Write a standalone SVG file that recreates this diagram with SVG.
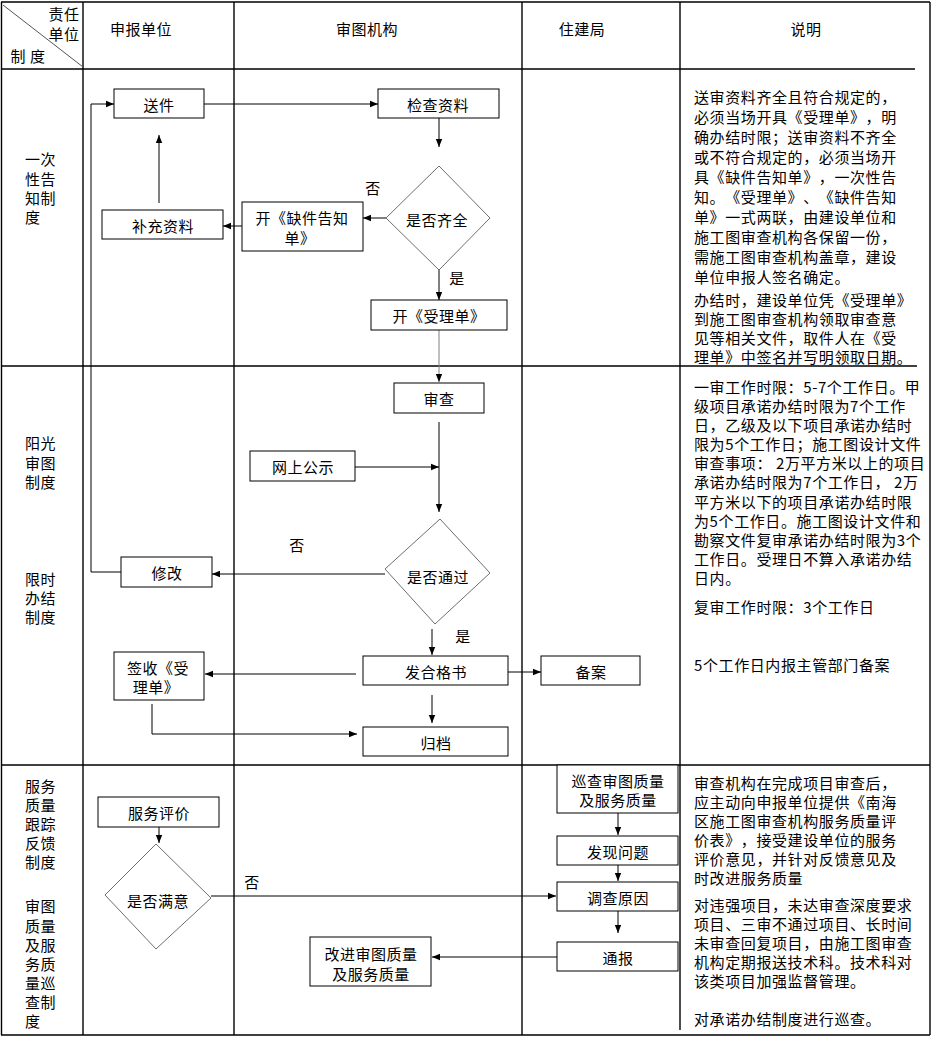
<svg xmlns="http://www.w3.org/2000/svg" width="941" height="1038" viewBox="0 0 941 1038">
<style>
text{font-family:"Noto Sans CJK SC","Noto Sans",sans-serif;font-size:15px;fill:#000;dominant-baseline:central;text-spacing-trim:space-all}
.c{text-anchor:middle;letter-spacing:0.5px}
.n{text-anchor:start;letter-spacing:0.6px}
.grid line{stroke:#000;stroke-width:1.4}
.box{fill:#fff;stroke:#000;stroke-width:1}
.dia{fill:#fff;stroke:#6e6e6e;stroke-width:1}
.conn path{fill:none;stroke:#000;stroke-width:1}
.conn path.g{stroke:#808080}
</style>
<defs>
<marker id="arr" viewBox="0 0 10 10" refX="10" refY="5" markerWidth="9" markerHeight="8" markerUnits="userSpaceOnUse" orient="auto">
<path d="M0,1 L10,5 L0,9 z" fill="#000"/>
</marker>
</defs>
<rect x="0" y="0" width="941" height="1038" fill="#fff"/>
<g id="table" class="grid">
<line x1="1" y1="2" x2="930" y2="2"/>
<line x1="1.5" y1="2" x2="1.5" y2="1035"/>
<line x1="930" y1="2" x2="930" y2="1035"/>
<line x1="83" y1="2" x2="83" y2="1035"/>
<line x1="234" y1="2" x2="234" y2="1035"/>
<line x1="522" y1="2" x2="522" y2="1035"/>
<line x1="680" y1="2" x2="680" y2="1030"/>
<line x1="1" y1="69" x2="915" y2="69"/>
<line x1="1" y1="366" x2="917" y2="366"/>
<line x1="1" y1="765" x2="930" y2="765"/>
<line x1="1" y1="1035" x2="930" y2="1035"/>
<line x1="3" y1="5" x2="83" y2="67" style="stroke:#555;stroke-width:1"/>
</g>
<g id="header">
<text x="64" y="13" class="c">责任</text>
<text x="64" y="33" class="c">单位</text>
<text x="28" y="55" class="c">制 度</text>
<text x="141" y="28" class="c">申报单位</text>
<text x="367" y="28" class="c">审图机构</text>
<text x="582" y="28" class="c">住建局</text>
<text x="806" y="28" class="c">说明</text>
</g>
<g id="row-labels">
<text x="25" y="158" class="n">一次</text>
<text x="25" y="178" class="n">性告</text>
<text x="25" y="197" class="n">知制</text>
<text x="25" y="216" class="n">度</text>
<text x="25" y="442" class="n">阳光</text>
<text x="25" y="462" class="n">审图</text>
<text x="25" y="481" class="n">制度</text>
<text x="25" y="578" class="n">限时</text>
<text x="25" y="597" class="n">办结</text>
<text x="25" y="616" class="n">制度</text>
<text x="25" y="785" class="n">服务</text>
<text x="25" y="804" class="n">质量</text>
<text x="25" y="823" class="n">跟踪</text>
<text x="25" y="842" class="n">反馈</text>
<text x="25" y="861" class="n">制度</text>
<text x="25" y="905" class="n">审图</text>
<text x="25" y="925" class="n">质量</text>
<text x="25" y="944" class="n">及服</text>
<text x="25" y="963" class="n">务质</text>
<text x="25" y="982" class="n">量巡</text>
<text x="25" y="1001" class="n">查制</text>
<text x="25" y="1020" class="n">度</text>
</g>
<g id="connectors" class="conn">
<path d="M204,104 H378" marker-end="url(#arr)"/>
<path d="M439,118 V147" marker-end="url(#arr)"/>
<path d="M386,218 H363" marker-end="url(#arr)"/>
<path d="M242,226 H223" marker-end="url(#arr)"/>
<path d="M159,203 V135" marker-end="url(#arr)"/>
<path d="M439,270 V300" marker-end="url(#arr)"/>
<path class="g" d="M439,330 V382" marker-end="url(#arr)"/>
<path d="M439,422 V512" marker-end="url(#arr)"/>
<path d="M355,467 H439" marker-end="url(#arr)"/>
<path d="M385,574 H212" marker-end="url(#arr)"/>
<path d="M121,572 H91 V104 H114" marker-end="url(#arr)"/>
<path d="M432,629 V655" marker-end="url(#arr)"/>
<path d="M356,674 H205" marker-end="url(#arr)"/>
<path d="M508,672 H541" marker-end="url(#arr)"/>
<path d="M432,695 V723" marker-end="url(#arr)"/>
<path d="M152,704 V734 H357" marker-end="url(#arr)"/>
<path d="M159,827 V843" marker-end="url(#arr)"/>
<path d="M211,896 H556" marker-end="url(#arr)"/>
<path d="M618,813 V835" marker-end="url(#arr)"/>
<path d="M618,865 V881" marker-end="url(#arr)"/>
<path d="M618,911 V933" marker-end="url(#arr)"/>
<path d="M557,957 H432" marker-end="url(#arr)"/>
</g>
<g id="edge-labels">
<text x="373" y="187" class="c">否</text>
<text x="457" y="277" class="c">是</text>
<text x="297" y="544" class="c">否</text>
<text x="463" y="635" class="c">是</text>
<text x="252" y="881" class="c">否</text>
</g>
<g id="n-songjian"><rect class="box" x="114" y="89" width="90" height="29"/><text x="159" y="104" class="c">送件</text></g>
<g id="n-jiancha"><rect class="box" x="378" y="89" width="121" height="29"/><text x="438" y="104" class="c">检查资料</text></g>
<g id="n-qiquan"><polygon class="dia" points="439,166 490,218 439,270 386,218"/><text x="437" y="219" class="c">是否齐全</text></g>
<g id="n-quejian"><rect class="box" x="242" y="202" width="121" height="49"/><text x="302" y="217" class="c">开《缺件告知</text><text x="300" y="237" class="c">单》</text></g>
<g id="n-buchong"><rect class="box" x="102" y="210" width="121" height="29"/><text x="163" y="225" class="c">补充资料</text></g>
<g id="n-shouli"><rect class="box" x="371" y="300" width="136" height="30"/><text x="439" y="315" class="c">开《受理单》</text></g>
<g id="n-shencha"><rect class="box" x="394" y="383" width="90" height="30"/><text x="439" y="398" class="c">审查</text></g>
<g id="n-gongshi"><rect class="box" x="250" y="451" width="105" height="30"/><text x="303" y="466" class="c">网上公示</text></g>
<g id="n-tongguo"><polygon class="dia" points="440,519 490,573 435,624 385,569"/><text x="438" y="576" class="c">是否通过</text></g>
<g id="n-xiugai"><rect class="box" x="121" y="557" width="91" height="30"/><text x="167" y="572" class="c">修改</text></g>
<g id="n-hege"><rect class="box" x="363" y="656" width="145" height="29"/><text x="436" y="671" class="c">发合格书</text></g>
<g id="n-qianshou"><rect class="box" x="114" y="652" width="90" height="48"/><text x="158" y="667" class="c">签收《受</text><text x="156" y="686" class="c">理单》</text></g>
<g id="n-beian"><rect class="box" x="541" y="656" width="99" height="29"/><text x="591" y="671" class="c">备案</text></g>
<g id="n-guidang"><rect class="box" x="363" y="727" width="145" height="29"/><text x="436" y="742" class="c">归档</text></g>
<g id="n-pingjia"><rect class="box" x="98" y="797" width="121" height="30"/><text x="159" y="812" class="c">服务评价</text></g>
<g id="n-manyi"><polygon class="dia" points="156,844 211,898 156,949 105,895"/><text x="158" y="900" class="c">是否满意</text></g>
<g id="n-xuncha"><rect class="box" x="557" y="765" width="121" height="48"/><text x="618" y="780" class="c">巡查审图质量</text><text x="618" y="799" class="c">及服务质量</text></g>
<g id="n-faxian"><rect class="box" x="557" y="836" width="121" height="29"/><text x="618" y="851" class="c">发现问题</text></g>
<g id="n-diaocha"><rect class="box" x="557" y="882" width="121" height="29"/><text x="618" y="897" class="c">调查原因</text></g>
<g id="n-tongbao"><rect class="box" x="557" y="942" width="121" height="29"/><text x="618" y="957" class="c">通报</text></g>
<g id="n-gaijin"><rect class="box" x="310" y="937" width="121" height="49"/><text x="371" y="953" class="c">改进审图质量</text><text x="371" y="973" class="c">及服务质量</text></g>
<g id="notes-1">
<text x="694" y="96" class="n">送审资料齐全且符合规定的，</text>
<text x="694" y="116" class="n">必须当场开具《受理单》，明</text>
<text x="694" y="136" class="n">确办结时限；送审资料不齐全</text>
<text x="694" y="156" class="n">或不符合规定的，必须当场开</text>
<text x="694" y="176" class="n">具《缺件告知单》，一次性告</text>
<text x="694" y="196" class="n">知。《受理单》、《缺件告知</text>
<text x="694" y="216" class="n">单》一式两联，由建设单位和</text>
<text x="694" y="236" class="n">施工图审查机构各保留一份，</text>
<text x="694" y="256" class="n">需施工图审查机构盖章，建设</text>
<text x="694" y="276" class="n">单位申报人签名确定。</text>
<text x="694" y="299" class="n">办结时，建设单位凭《受理单》</text>
<text x="694" y="318" class="n">到施工图审查机构领取审查意</text>
<text x="694" y="337" class="n">见等相关文件，取件人在《受</text>
<text x="694" y="356" class="n">理单》中签名并写明领取日期。</text>
</g>
<g id="notes-2">
<text x="694" y="386" class="n">一审工作时限：5-7个工作日。甲</text>
<text x="694" y="405" class="n">级项目承诺办结时限为7个工作</text>
<text x="694" y="424" class="n">日，乙级及以下项目承诺办结时</text>
<text x="694" y="443" class="n">限为5个工作日；施工图设计文件</text>
<text x="694" y="462" class="n" xml:space="preserve">审查事项： 2万平方米以上的项目</text>
<text x="694" y="481" class="n" xml:space="preserve">承诺办结时限为7个工作日， 2万</text>
<text x="694" y="501" class="n">平方米以下的项目承诺办结时限</text>
<text x="694" y="520" class="n">为5个工作日。施工图设计文件和</text>
<text x="694" y="539" class="n">勘察文件复审承诺办结时限为3个</text>
<text x="694" y="558" class="n">工作日。受理日不算入承诺办结</text>
<text x="694" y="577" class="n">日内。</text>
<text x="694" y="606" class="n">复审工作时限：3个工作日</text>
<text x="694" y="664" class="n">5个工作日内报主管部门备案</text>
</g>
<g id="notes-3">
<text x="694" y="782" class="n">审查机构在完成项目审查后，</text>
<text x="694" y="801" class="n">应主动向申报单位提供《南海</text>
<text x="694" y="820" class="n">区施工图审查机构服务质量评</text>
<text x="694" y="839" class="n">价表》，接受建设单位的服务</text>
<text x="694" y="858" class="n">评价意见，并针对反馈意见及</text>
<text x="694" y="877" class="n">时改进服务质量</text>
<text x="694" y="904" class="n">对违强项目，未达审查深度要求</text>
<text x="694" y="923" class="n">项目、三审不通过项目、长时间</text>
<text x="694" y="942" class="n">未审查回复项目，由施工图审查</text>
<text x="694" y="961" class="n">机构定期报送技术科。技术科对</text>
<text x="694" y="980" class="n">该类项目加强监督管理。</text>
<text x="694" y="1018" class="n">对承诺办结制度进行巡查。</text>
</g>
</svg>
